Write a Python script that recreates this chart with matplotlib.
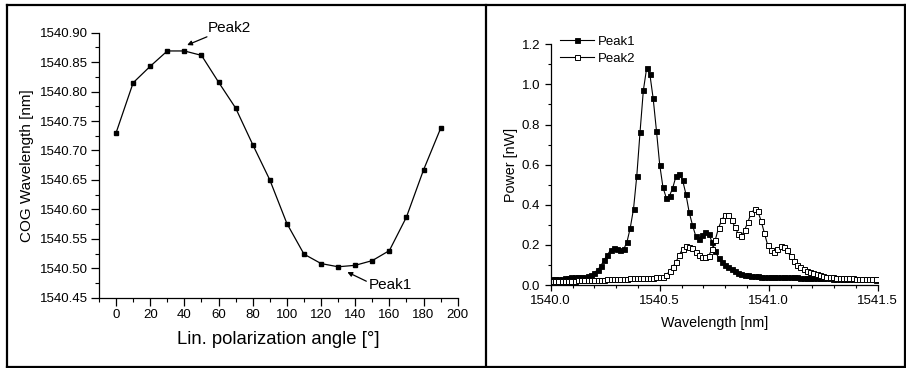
import numpy as np
import matplotlib
matplotlib.use("Agg")
import matplotlib.pyplot as plt
from matplotlib.lines import Line2D
from matplotlib.ticker import MultipleLocator, FormatStrFormatter

plt.rcParams['font.family'] = ['Liberation Sans', 'DejaVu Sans']

# ---------------- data: left panel ----------------
angle_deg = [0, 10, 20, 30, 40, 50, 60, 70, 80, 90, 100, 110, 120, 130, 140, 150, 160, 170, 180, 190]
cog_nm = [1540.730, 1540.815, 1540.843, 1540.869, 1540.869, 1540.8615, 1540.816, 1540.772,
          1540.710, 1540.650, 1540.576, 1540.524, 1540.508, 1540.5025, 1540.505, 1540.513,
          1540.530, 1540.587, 1540.667, 1540.7375]

# ---------------- data: right panel ----------------
wl_start = 1540.005
wl_step = 0.015
peak1_nw = [0.030, 0.030, 0.031, 0.032, 0.034, 0.036, 0.038, 0.040, 0.041, 0.041,
            0.041, 0.043, 0.050, 0.062, 0.075, 0.095, 0.125, 0.150, 0.175, 0.183,
            0.180, 0.175, 0.178, 0.215, 0.285, 0.380, 0.545, 0.765, 0.970, 1.080,
            1.050, 0.930, 0.770, 0.600, 0.487, 0.435, 0.444, 0.485, 0.543, 0.552,
            0.523, 0.454, 0.364, 0.300, 0.245, 0.229, 0.250, 0.265, 0.255, 0.215,
            0.168, 0.136, 0.115, 0.100, 0.088, 0.078, 0.069, 0.062, 0.056, 0.051,
            0.048, 0.046, 0.044, 0.043, 0.042, 0.042, 0.041, 0.041, 0.040, 0.040,
            0.039, 0.038, 0.038, 0.039, 0.039, 0.038, 0.037, 0.036, 0.036, 0.035,
            0.034, 0.034, 0.034, 0.033, 0.033, 0.033, 0.032, 0.032, 0.032, 0.031,
            0.031, 0.030, 0.030, 0.030, 0.029, 0.029, 0.028, 0.028, 0.028, 0.027]
peak2_nw = [0.020, 0.020, 0.021, 0.021, 0.022, 0.022, 0.022, 0.022, 0.023, 0.023,
            0.024, 0.024, 0.025, 0.025, 0.026, 0.027, 0.027, 0.028, 0.029, 0.030,
            0.030, 0.031, 0.031, 0.032, 0.033, 0.034, 0.035, 0.036, 0.036, 0.037,
            0.037, 0.037, 0.038, 0.039, 0.041, 0.050, 0.068, 0.090, 0.115, 0.150,
            0.180, 0.194, 0.190, 0.186, 0.163, 0.150, 0.141, 0.138, 0.145, 0.180,
            0.225, 0.285, 0.325, 0.350, 0.347, 0.322, 0.290, 0.255, 0.243, 0.275,
            0.315, 0.360, 0.377, 0.368, 0.320, 0.260, 0.200, 0.172, 0.167, 0.180,
            0.193, 0.190, 0.172, 0.143, 0.118, 0.101, 0.088, 0.079, 0.072, 0.066,
            0.059, 0.054, 0.049, 0.045, 0.042, 0.039, 0.038, 0.036, 0.035, 0.034,
            0.034, 0.033, 0.033, 0.032, 0.032, 0.031, 0.031, 0.031, 0.030, 0.030]
wavelength_nm = wl_start + wl_step * np.arange(len(peak1_nw))

W, H = 906, 368
fig = plt.figure(figsize=(W / 100, H / 100), dpi=100)

def fx(px):
    return px / W

def fy(py):
    return 1 - py / H

# ---------------- left panel ----------------
axL = fig.add_axes([fx(99), fy(297.7), fx(457.7) - fx(99), fy(32.7) - fy(297.7)])
axL.plot(angle_deg, cog_nm, color='black', lw=0.9, marker='s', ms=2.6,
         mfc='black', mec='black')
axL.set_xlim(-10, 200)
axL.set_ylim(1540.45, 1540.90)
axL.xaxis.set_major_locator(MultipleLocator(20))
axL.xaxis.set_minor_locator(MultipleLocator(10))
axL.yaxis.set_major_locator(MultipleLocator(0.05))
axL.yaxis.set_minor_locator(MultipleLocator(0.025))
axL.yaxis.set_major_formatter(FormatStrFormatter('%.2f'))
for s in ['top', 'right']:
    axL.spines[s].set_visible(False)
for s in ['left', 'bottom']:
    axL.spines[s].set_linewidth(0.9)
axL.tick_params(which='major', direction='out', length=5.5, width=0.9, labelsize=9.5, pad=2.5)
axL.tick_params(which='minor', direction='out', length=3, width=0.8)
axL.set_xlabel('Lin. polarization angle [°]', fontsize=13.3, labelpad=7.5)
axL.set_ylabel('COG Wavelength [nm]', fontsize=11, labelpad=4)

axL.text(53.8, 1540.908, 'Peak2', fontsize=11, va='center', ha='left', clip_on=False)
axL.annotate('', xy=(41.6, 1540.879), xytext=(53.2, 1540.893),
             arrowprops=dict(arrowstyle='-|>', color='black', lw=0.9,
                             mutation_scale=7, shrinkA=0, shrinkB=0),
             annotation_clip=False)
axL.text(147.7, 1540.4715, 'Peak1', fontsize=11, va='center', ha='left', clip_on=False)
axL.annotate('', xy=(135.4, 1540.4935), xytext=(146.5, 1540.478),
             arrowprops=dict(arrowstyle='-|>', color='black', lw=0.9,
                             mutation_scale=7, shrinkA=0, shrinkB=0),
             annotation_clip=False)

# ---------------- right panel ----------------
axR = fig.add_axes([fx(550.7), fy(285), fx(877.7) - fx(550.7), fy(44.3) - fy(285)])
axR.plot(wavelength_nm, peak1_nw, color='black', lw=0.8, marker='s', ms=3.6,
         mfc='black', mec='black', mew=0.6, label='Peak1')
axR.plot(wavelength_nm, peak2_nw, color='black', lw=0.8, marker='s', ms=3.6,
         mfc='white', mec='black', mew=0.7, label='Peak2')
axR.set_xlim(1540.0, 1541.5)
axR.set_ylim(0.0, 1.2)
axR.xaxis.set_major_locator(MultipleLocator(0.5))
axR.xaxis.set_minor_locator(MultipleLocator(0.1))
axR.yaxis.set_major_locator(MultipleLocator(0.2))
axR.yaxis.set_minor_locator(MultipleLocator(0.1))
axR.xaxis.set_major_formatter(FormatStrFormatter('%.1f'))
axR.yaxis.set_major_formatter(FormatStrFormatter('%.1f'))
for s in ['top', 'right']:
    axR.spines[s].set_visible(False)
for s in ['left', 'bottom']:
    axR.spines[s].set_linewidth(0.9)
axR.tick_params(which='major', direction='out', length=4.5, width=0.9, labelsize=9.5, pad=3)
axR.tick_params(which='minor', direction='out', length=2.5, width=0.8)
axR.set_xlabel('Wavelength [nm]', fontsize=10.3, labelpad=6)
axR.set_ylabel('Power [nW]', fontsize=10.3, labelpad=3)
axR.legend(loc='upper left', bbox_to_anchor=(0.028, 1.035), frameon=False,
           fontsize=9.5, handlelength=2.6, handletextpad=0.25, labelspacing=0.35,
           borderpad=0, borderaxespad=0, numpoints=1)

# ---------------- frame lines ----------------
lw_frame = 1.6
frame = [((7, 905), (5, 5)), ((7, 905), (366.5, 366.5)), ((7, 7), (5, 366.5)),
         ((905, 905), (5, 366.5)), ((485.7, 485.7), (5, 366.5))]
for xs, ys in frame:
    fig.add_artist(Line2D([fx(xs[0]), fx(xs[1])], [fy(ys[0]), fy(ys[1])],
                          transform=fig.transFigure, color='black', lw=lw_frame))

fig.savefig('out.png', dpi=100)
